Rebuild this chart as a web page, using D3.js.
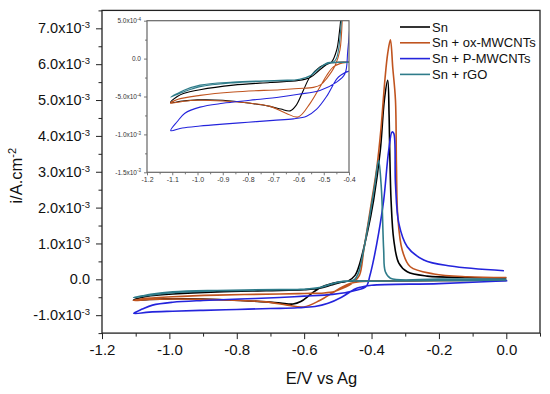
<!DOCTYPE html>
<html>
<head>
<meta charset="utf-8">
<script src="https://cdn.jsdelivr.net/npm/d3@7"></script>
<style>
  body { margin: 0; background: #fff; }
  svg { display: block; font-family: "Liberation Sans", Arial, sans-serif; }
</style>
</head>
<body>
<div id="chart"></div>
<script>
// series: [E (V vs Ag), i (A/cm2)], cathodic scan first, then the reverse scan
const seriesNames = ['Sn', 'Sn + ox-MWCNTs', 'Sn + P-MWCNTs', 'Sn + rGO']
const seriesColors = ['#000000', '#c0541f', '#2424dc', '#2f7c8a']

const sn = [
  [0.0, -0.03e-3], [-0.2, -0.035e-3], [-0.4, -0.045e-3], [-0.47, -0.055e-3], [-0.49, -0.07e-3],
  [-0.515, -0.11e-3], [-0.554, -0.24e-3], [-0.581, -0.42e-3], [-0.61, -0.62e-3], [-0.633, -0.69e-3],
  [-0.67, -0.665e-3], [-0.713, -0.63e-3], [-0.79, -0.59e-3], [-0.9, -0.55e-3], [-1.0, -0.545e-3],
  [-1.06, -0.56e-3], [-1.107, -0.58e-3],
  [-1.08, -0.5e-3], [-1.056, -0.46e-3], [-0.99, -0.41e-3], [-0.858, -0.35e-3], [-0.713, -0.315e-3],
  [-0.6, -0.29e-3], [-0.554, -0.25e-3], [-0.52, -0.16e-3], [-0.49, -0.08e-3], [-0.47, -0.05e-3],
  [-0.449, 0.11e-3], [-0.438, 0.35e-3], [-0.413, 1.28e-3], [-0.394, 2.2e-3], [-0.374, 3.6e-3],
  [-0.362, 5.0e-3], [-0.352, 5.55e-3], [-0.348, 4.6e-3], [-0.346, 3.6e-3], [-0.342, 2.2e-3],
  [-0.334, 1.1e-3], [-0.319, 0.45e-3], [-0.294, 0.21e-3], [-0.235, 0.09e-3], [-0.116, 0.05e-3],
  [0.0, 0.04e-3]
]

const snOx = [
  [0.0, -0.02e-3], [-0.2, -0.03e-3], [-0.4, -0.05e-3], [-0.436, -0.066e-3], [-0.462, -0.11e-3],
  [-0.488, -0.22e-3], [-0.515, -0.375e-3], [-0.554, -0.59e-3], [-0.601, -0.77e-3], [-0.65, -0.72e-3],
  [-0.713, -0.63e-3], [-0.79, -0.59e-3], [-0.9, -0.56e-3], [-1.0, -0.55e-3], [-1.06, -0.565e-3],
  [-1.107, -0.59e-3],
  [-1.08, -0.54e-3], [-0.99, -0.485e-3], [-0.858, -0.44e-3], [-0.673, -0.41e-3], [-0.6, -0.395e-3],
  [-0.541, -0.38e-3], [-0.51, -0.34e-3], [-0.488, -0.26e-3], [-0.455, -0.09e-3], [-0.436, 0.11e-3],
  [-0.423, 0.82e-3], [-0.404, 1.93e-3], [-0.384, 3.14e-3], [-0.372, 4.2e-3], [-0.36, 5.6e-3],
  [-0.352, 6.3e-3], [-0.344, 6.68e-3], [-0.337, 5.9e-3], [-0.329, 5.0e-3], [-0.326, 3.14e-3],
  [-0.322, 1.74e-3], [-0.309, 0.82e-3], [-0.285, 0.35e-3], [-0.215, 0.15e-3], [-0.116, 0.07e-3],
  [0.0, 0.05e-3]
]

const snP = [
  [0.003, -0.04e-3], [-0.2, -0.12e-3], [-0.4, -0.165e-3], [-0.433, -0.22e-3], [-0.449, -0.27e-3],
  [-0.489, -0.5e-3], [-0.529, -0.67e-3], [-0.568, -0.76e-3], [-0.62, -0.795e-3], [-0.7, -0.815e-3],
  [-0.8, -0.84e-3], [-0.9, -0.865e-3], [-0.99, -0.89e-3], [-1.06, -0.915e-3], [-1.106, -0.95e-3],
  [-1.08, -0.83e-3], [-1.05, -0.72e-3], [-0.99, -0.64e-3], [-0.9, -0.59e-3], [-0.792, -0.55e-3],
  [-0.673, -0.506e-3], [-0.6, -0.47e-3], [-0.515, -0.42e-3], [-0.449, -0.31e-3], [-0.416, -0.2e-3],
  [-0.405, 0.1e-3], [-0.396, 0.45e-3], [-0.379, 1.28e-3], [-0.364, 2.2e-3], [-0.349, 3.6e-3],
  [-0.339, 4.11e-3], [-0.334, 4.07e-3], [-0.329, 2.67e-3], [-0.319, 1.56e-3], [-0.294, 0.91e-3],
  [-0.245, 0.54e-3], [-0.166, 0.37e-3], [-0.007, 0.24e-3]
]

const snRgo = [
  [0.0, -0.02e-3], [-0.2, -0.035e-3], [-0.4, -0.05e-3], [-0.48, -0.06e-3], [-0.52, -0.13e-3],
  [-0.56, -0.24e-3], [-0.62, -0.285e-3], [-0.7, -0.295e-3], [-0.86, -0.32e-3], [-0.99, -0.37e-3],
  [-1.056, -0.44e-3], [-1.106, -0.507e-3],
  [-1.08, -0.46e-3], [-1.056, -0.42e-3], [-0.99, -0.35e-3], [-0.858, -0.31e-3], [-0.673, -0.286e-3],
  [-0.6, -0.275e-3], [-0.55, -0.22e-3], [-0.515, -0.12e-3], [-0.49, -0.06e-3], [-0.46, -0.04e-3],
  [-0.45, 0.0], [-0.44, 0.15e-3], [-0.428, 0.6e-3], [-0.415, 1.25e-3], [-0.402, 1.95e-3],
  [-0.39, 2.65e-3], [-0.379, 3.32e-3], [-0.372, 2.7e-3], [-0.369, 2.2e-3], [-0.364, 0.82e-3],
  [-0.359, 0.21e-3], [-0.344, 0.03e-3], [-0.2, 0.01e-3], [0.0, 0.0]
]

const allSeries = [sn, snOx, snP, snRgo]

// tick values
const xTicks = [-1.2, -1.0, -0.8, -0.6, -0.4, -0.2, 0.0]
const xMinor = [-1.1, -0.9, -0.7, -0.5, -0.3, -0.1, 0.1]
const yTicks = [-1e-3, 0, 1e-3, 2e-3, 3e-3, 4e-3, 5e-3, 6e-3, 7e-3]
const yMinor = [-1.5e-3, -0.5e-3, 0.5e-3, 1.5e-3, 2.5e-3, 3.5e-3, 4.5e-3, 5.5e-3, 6.5e-3, 7.5e-3]
const insetXTicks = [-1.2, -1.1, -1.0, -0.9, -0.8, -0.7, -0.6, -0.5, -0.4]
const insetXMinor = [-1.15, -1.05, -0.95, -0.85, -0.75, -0.65, -0.55, -0.45]
const insetYTicks = [-1.5e-3, -1e-3, -0.5e-3, 0, 0.5e-3]
const insetYMinor = [-1.25e-3, -0.75e-3, -0.25e-3, 0.25e-3]

const width = 550
const height = 394
const main = d3.select('#chart')
const svg = main.append('svg')
    .attr('width', width)
    .attr('height', height)
    .attr('viewBox', `0 0 ${width} ${height}`)

// main plot
const mLeft = 102, mRight = 540, mTop = 10.4, mBottom = 333.1
const xScale = d3.scaleLinear().domain([-1.2, 0.1]).range([mLeft, mRight])
const yScale = d3.scaleLinear().domain([-1.5e-3, 7.5e-3]).range([mBottom, mTop])

// writes "a.bx10" with a raised exponent
const sciLabel = (sel, v, exp, supSize) => {
    sel.text(null)
    if (v === 0) { sel.text('0.0'); return }
    const m = v / Math.pow(10, exp)
    sel.append('tspan').text(`${m.toFixed(1)}x10`)
    sel.append('tspan').attr('dy', '-0.55em').attr('font-size', supSize).text(`${exp}`)
}

const xAxis = g => g
    .attr('transform', `translate(0, ${mBottom})`)
    .call(d3.axisBottom(xScale).tickValues(xTicks).tickSize(6).tickPadding(5).tickFormat(d => d.toFixed(1)))
    .call(g => g.select('.domain').remove())
    .call(g => g.selectAll('text').attr('font-size', 15).attr('fill', '#111').attr('font-family', null))
const xAxisMinor = g => g
    .attr('transform', `translate(0, ${mBottom})`)
    .call(d3.axisBottom(xScale).tickValues(xMinor).tickSize(3.5).tickFormat(''))
    .call(g => g.select('.domain').remove())

const yAxis = g => g
    .attr('transform', `translate(${mLeft}, 0)`)
    .call(d3.axisLeft(yScale).tickValues(yTicks).tickSize(6).tickPadding(6).tickFormat(''))
    .call(g => g.select('.domain').remove())
    .call(g => g.selectAll('.tick text')
        .attr('font-size', 14.5).attr('fill', '#111').attr('font-family', null)
        .each(function (d) { sciLabel(d3.select(this), d, -3, 9.5) }))
const yAxisMinor = g => g
    .attr('transform', `translate(${mLeft}, 0)`)
    .call(d3.axisLeft(yScale).tickValues(yMinor).tickSize(3.5).tickFormat(''))
    .call(g => g.select('.domain').remove())

svg.append('g').call(xAxisMinor)
svg.append('g').call(xAxis)
svg.append('g').call(yAxisMinor)
svg.append('g').call(yAxis)
svg.selectAll('.tick line').attr('stroke', '#222').attr('stroke-width', 1)

const line = (xs, ys) => d3.line()
    .x(d => xs(d[0]))
    .y(d => ys(d[1]))
    .curve(d3.curveCatmullRom.alpha(0.5))

svg.append('g')
    .selectAll('path')
    .data(allSeries)
    .join('path')
    .attr('d', d => line(xScale, yScale)(d))
    .attr('fill', 'none')
    .attr('stroke', (d, i) => seriesColors[i])
    .attr('stroke-width', 1.6)
    .attr('stroke-linejoin', 'round')

svg.append('rect')
    .attr('x', mLeft).attr('y', mTop)
    .attr('width', mRight - mLeft).attr('height', mBottom - mTop)
    .attr('fill', 'none').attr('stroke', '#222').attr('stroke-width', 1.3)

// axis titles
svg.append('text')
    .attr('x', (mLeft + mRight) / 2 + 0.5).attr('y', 384)
    .attr('text-anchor', 'middle').attr('font-size', 16.5).attr('fill', '#111')
    .text('E/V vs Ag')

const yTitle = svg.append('text')
    .attr('transform', `translate(22, ${(mTop + mBottom) / 2 + 4}) rotate(-90)`)
    .attr('text-anchor', 'middle').attr('font-size', 16.5).attr('fill', '#111')
yTitle.append('tspan').text('i/A.cm')
yTitle.append('tspan').attr('dy', '-0.55em').attr('font-size', 11).text('-2')

// legend
const legend = svg.append('g')
    .selectAll('g')
    .data(seriesNames)
    .join('g')
    .attr('transform', (d, i) => `translate(400, ${27 + i * 15.8})`)
legend.append('line')
    .attr('x1', 0).attr('x2', 30)
    .attr('stroke', (d, i) => seriesColors[i]).attr('stroke-width', 1.6)
legend.append('text')
    .attr('x', 32).attr('y', 4.5)
    .attr('font-size', 13).attr('fill', '#111')
    .text(d => d)

// inset
const iLeft = 147, iRight = 349, iTop = 20.7, iBottom = 172.3
const ixScale = d3.scaleLinear().domain([-1.2, -0.4]).range([iLeft, iRight])
const iyScale = d3.scaleLinear().domain([-1.5e-3, 0.5e-3]).range([iBottom, iTop])

const inset = svg.append('g')
inset.append('rect')
    .attr('x', iLeft).attr('y', iTop)
    .attr('width', iRight - iLeft).attr('height', iBottom - iTop)
    .attr('fill', '#fff')

inset.append('clipPath').attr('id', 'insetClip')
    .append('rect')
    .attr('x', iLeft).attr('y', iTop)
    .attr('width', iRight - iLeft).attr('height', iBottom - iTop)

inset.append('g')
    .attr('clip-path', 'url(#insetClip)')
    .selectAll('path')
    .data(allSeries)
    .join('path')
    .attr('d', d => line(ixScale, iyScale)(d))
    .attr('fill', 'none')
    .attr('stroke', (d, i) => seriesColors[i])
    .attr('stroke-width', 1.1)

const ixAxis = g => g
    .attr('transform', `translate(0, ${iBottom})`)
    .call(d3.axisBottom(ixScale).tickValues(insetXTicks).tickSize(3).tickPadding(2).tickFormat(d => d.toFixed(1)))
    .call(g => g.select('.domain').remove())
    .call(g => g.selectAll('text').attr('font-size', 7).attr('fill', '#333').attr('font-family', null))
const ixAxisMinor = g => g
    .attr('transform', `translate(0, ${iBottom})`)
    .call(d3.axisBottom(ixScale).tickValues(insetXMinor).tickSize(2).tickFormat(''))
    .call(g => g.select('.domain').remove())
const iyAxis = g => g
    .attr('transform', `translate(${iLeft}, 0)`)
    .call(d3.axisLeft(iyScale).tickValues(insetYTicks).tickSize(3).tickPadding(3).tickFormat(''))
    .call(g => g.select('.domain').remove())
    .call(g => g.selectAll('.tick text')
        .attr('font-size', 6.5).attr('fill', '#333').attr('font-family', null)
        .each(function (d) { sciLabel(d3.select(this), d, Math.abs(d) < 0.9e-3 ? -4 : -3, 4.5) }))
const iyAxisMinor = g => g
    .attr('transform', `translate(${iLeft}, 0)`)
    .call(d3.axisLeft(iyScale).tickValues(insetYMinor).tickSize(2).tickFormat(''))
    .call(g => g.select('.domain').remove())

inset.append('g').call(ixAxisMinor)
inset.append('g').call(ixAxis)
inset.append('g').call(iyAxisMinor)
inset.append('g').call(iyAxis)
inset.selectAll('.tick line').attr('stroke', '#555').attr('stroke-width', 0.8)

inset.append('rect')
    .attr('x', iLeft).attr('y', iTop)
    .attr('width', iRight - iLeft).attr('height', iBottom - iTop)
    .attr('fill', 'none').attr('stroke', '#666').attr('stroke-width', 1.2)
</script>
</body>
</html>
